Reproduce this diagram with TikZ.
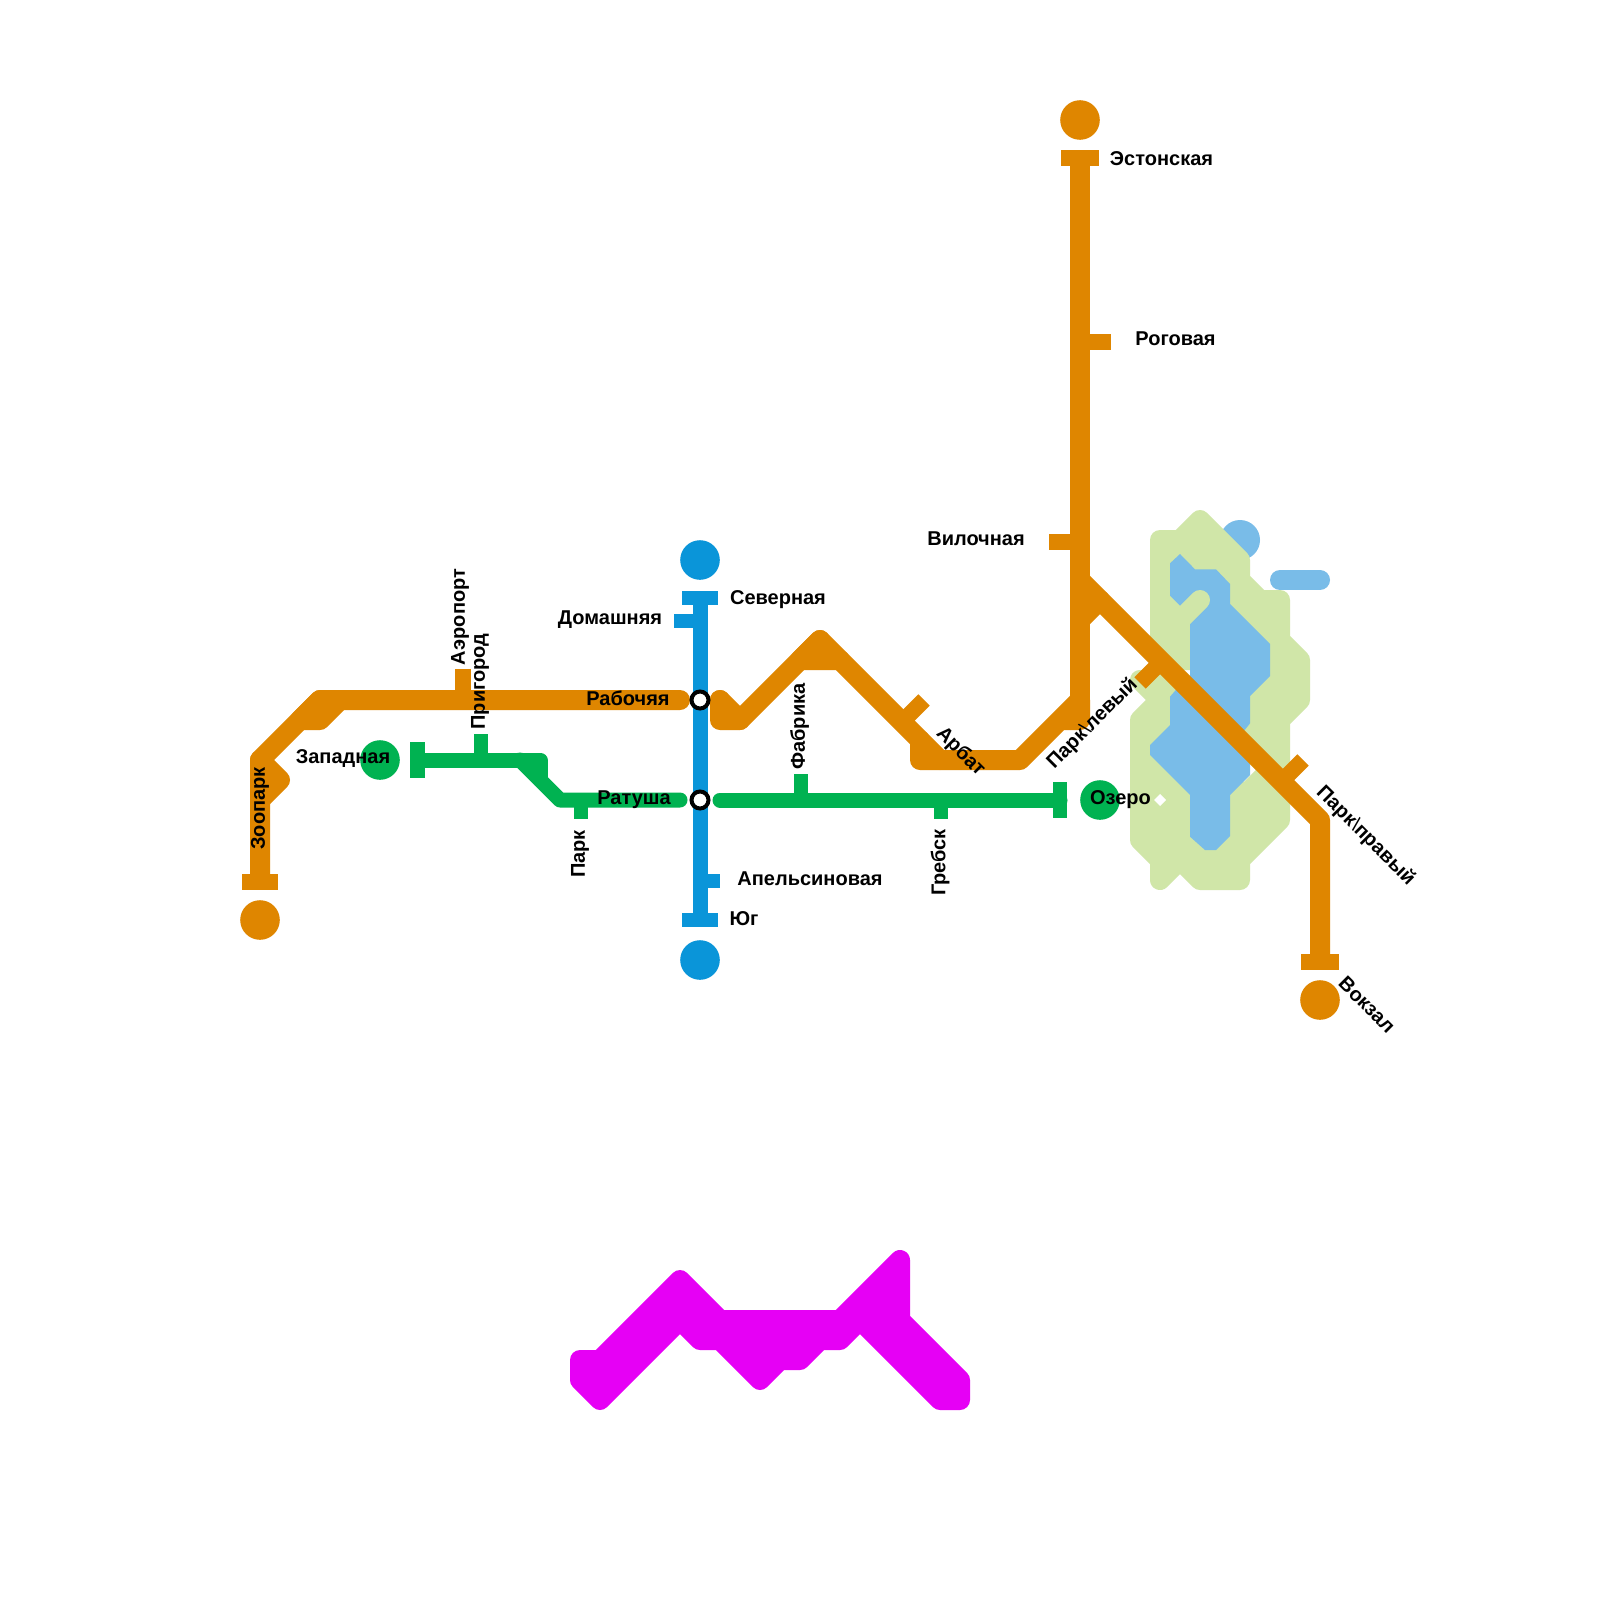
\documentclass[tikz,border=0pt]{standalone}
\usepackage{fontspec}
\setmainfont{Liberation Sans}
\definecolor{cOrange}{HTML}{DF8600}
\definecolor{cBlue}{HTML}{0A95D9}
\definecolor{cGreen}{HTML}{00B251}
\definecolor{cMag}{HTML}{E600F5}
\definecolor{cLand}{HTML}{D0E6A8}
\definecolor{cWater}{HTML}{79BCE8}
\tikzset{
  orangeline/.style={draw=cOrange,line width=10pt,line cap=round,line join=round},
  greenline/.style={draw=cGreen,line width=7.5pt,line cap=round,line join=round},
  blueline/.style={draw=cBlue,line width=7.5pt,line cap=round,line join=round},
  orangetick/.style={draw=cOrange,line width=8pt,line cap=butt},
  greentick/.style={draw=cGreen,line width=7.2pt,line cap=butt},
  bluetick/.style={draw=cBlue,line width=7.2pt,line cap=butt},
  landshape/.style={draw=cLand,fill=cLand,line width=10pt,line join=round,line cap=round},
  term/.style={circle,inner sep=0pt,minimum size=19.8pt,fill=#1},
  xchange/.style={circle,inner sep=0pt,minimum size=8.5pt,fill=white,draw=black,line width=2pt},
  lab/.style={inner sep=0pt,font=\fontsize{10}{12}\selectfont\bfseries,text=black}
}
\begin{document}
\begin{tikzpicture}[x=0.5pt,y=-0.5pt]
\useasboundingbox (0,0) rectangle (1600,1600);
\fill[white] (0,0) rectangle (1600,1600);

% water extras under the land
\fill[cWater] (1240,540) circle[radius=10pt];
\draw[cWater,line width=10pt,line cap=round] (1280,580) -- (1320,580);

% land
\path[landshape] (1160,540) -- (1180,540) -- (1200,520) -- (1240,560) -- (1240,580) -- (1260,600) -- (1280,600) -- (1280,640) -- (1300,660) -- (1300,700) -- (1280,720) -- (1280,780) -- (1220,720) -- (1200,660) -- (1180,660) -- (1170,670) -- (1160,660) -- cycle;
\path[landshape] (1140,680) -- (1180,680) -- (1200,700) -- (1240,800) -- (1270,770) -- (1280,780) -- (1280,820) -- (1240,860) -- (1240,880) -- (1200,880) -- (1180,860) -- (1160,880) -- (1160,860) -- (1140,840) -- (1140,720) -- (1160,700) -- cycle;
\fill[white] (1154,800) -- (1160,794) -- (1166,800) -- (1160,806) -- cycle;

% water bodies
\begin{scope}[shift={(1080,490)},x=0.16667pt,y=-0.16667pt]
\fill[cWater] (270,220) -- (300,192) -- (345,238) -- (408,238) -- (450,282) -- (450,342) -- (570,462) -- (570,558) -- (510,618) -- (510,700) -- (490,725) -- (330,560) -- (330,400) -- (300,347) -- (270,317) -- cycle;
\fill[cWater] (270,620) -- (290,597) -- (510,820) -- (510,855) -- (450,915) -- (450,1038) -- (408,1080) -- (375,1080) -- (330,1040) -- (330,915) -- (210,795) -- (210,765) -- (270,705) -- cycle;
\end{scope}
\draw[cLand,line width=10pt,line cap=round] (1200,600) -- (1175,625);

% magenta shape
\path[draw=cMag,fill=cMag,line width=10pt,line join=round] (580,1360) -- (600,1360) -- (680,1280) -- (720,1320) -- (840,1320) -- (900,1260) -- (900,1320) -- (960,1380) -- (960,1400) -- (940,1400) -- (860,1320) -- (840,1340) -- (820,1340) -- (800,1360) -- (780,1360) -- (760,1380) -- (720,1340) -- (700,1340) -- (680,1320) -- (600,1400) -- (580,1380) -- cycle;

% blue line
\draw[blueline] (700,600) -- (700,915);
\draw[bluetick] (682,598) -- (718,598);
\draw[bluetick] (674,621) -- (700,621);
\draw[bluetick] (700,881) -- (720,881);
\draw[bluetick] (682,920) -- (718,920);
\node[term=cBlue] (bluetop) at (700,560) {};
\node[term=cBlue] (bluebot) at (700,960) {};

% orange lines
\draw[orangeline] (680,700) -- (320,700) -- (260,760) -- (260,875);
\draw[orangeline] (260,760) -- (280,780) -- (260,800);
\draw[orangeline] (320,700) -- (340,700) -- (320,720) -- (300,720) -- (320,700);
\draw[orangeline] (720,700) -- (720,720) -- (740,720) -- (820,640) -- (840,660) -- (920,740) -- (920,760) -- (1020,760) -- (1080,700) -- (1080,720) -- (1060,720) -- (1080,700);
\draw[orangeline] (720,700) -- (740,720);
\draw[orangeline] (820,640) -- (800,660) -- (840,660);
\draw[orangeline] (920,740) -- (940,760);
\draw[orangeline] (1080,165) -- (1080,700);
\draw[orangeline] (1080,580) -- (1320,820) -- (1320,955);
\draw[orangeline] (1100,600) -- (1080,620);
\draw[orangetick] (1061,158) -- (1099,158);
\draw[orangetick] (1080,342) -- (1111,342);
\draw[orangetick] (1080,542) -- (1049,542);
\draw[orangetick] (1301,961.5) -- (1339,961.5);
\draw[orangetick] (242,881.5) -- (278,881.5);
\draw[orangetick] (462.5,700) -- (462.5,669);
\draw[orangetick] (902,722) -- (924,700);
\draw[orangetick] (1161.5,661.5) -- (1140,683);
\draw[orangetick] (1281.5,781.5) -- (1303,760);
\node[term=cOrange] (orangetop) at (1080,120) {};
\node[term=cOrange] (orangeright) at (1320,1000) {};
\node[term=cOrange] (orangeleft) at (260,920) {};

% green lines
\draw[greenline] (420,760) -- (540,760) -- (540,780);
\draw[greenline] (520,760) -- (560,800) -- (680,800);
\draw[greenline] (720,800) -- (1060,800);
\draw[greentick] (417.5,742) -- (417.5,778);
\draw[greentick] (481,734) -- (481,760);
\draw[greentick] (581,800) -- (581,819);
\draw[greentick] (801,774) -- (801,800);
\draw[greentick] (941,800) -- (941,819);
\draw[greentick] (1060,782) -- (1060,818);
\node[term=cGreen] (greenleft) at (380,760) {};
\node[term=cGreen] (greenright) at (1100,800) {};

% interchanges
\node[xchange] (ixa) at (700,700) {};
\node[xchange] (ixb) at (700,800) {};

% labels
\node[lab] (l1) at (1161.5,159) {Эстонская};
\node[lab] (l2) at (1175.5,338.5) {Роговая};
\node[lab] (l3) at (976,539) {Вилочная};
\node[lab] (l4) at (778,600) {Северная};
\node[lab] (l5) at (610,619.5) {Домашняя};
\node[lab] (l6) at (628,698) {Рабочяя};
\node[lab] (l7) at (634,799.5) {Ратуша};
\node[lab] (l8) at (343,759) {Западная};
\node[lab] (l9) at (810,878.5) {Апельсиновая};
\node[lab] (l10) at (744,918.5) {Юг};
\node[lab] (l11) at (1120.5,800) {Озеро};
\node[lab,rotate=90] (l12) at (460,617) {Аэропорт};
\node[lab,rotate=90] (l13) at (480,681.5) {Пригород};
\node[lab,rotate=90] (l14) at (260,808.5) {Зоопарк};
\node[lab,rotate=90] (l15) at (580,854) {Парк};
\node[lab,rotate=90] (l16) at (799.5,726.5) {Фабрика};
\node[lab,rotate=90] (l17) at (940,862.5) {Гребск};
\node[lab,rotate=-45] (l18) at (960.5,752) {Арбат};
\node[lab,rotate=45] (l19) at (1092.5,723.5) {Парк{\mdseries\textbackslash}левый};
\node[lab,rotate=-45] (l20) at (1365.5,836) {Парк{\mdseries\textbackslash}правый};
\node[lab,rotate=-45] (l21) at (1367,1005) {Вокзал};
\end{tikzpicture}
\end{document}
